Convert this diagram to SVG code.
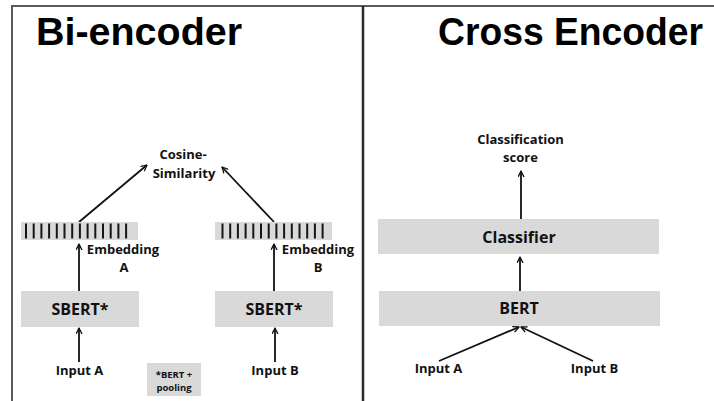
<svg xmlns="http://www.w3.org/2000/svg" width="714" height="401" viewBox="0 0 714 401">
  <defs>
    <marker id="arrow" viewBox="0 0 10 10" refX="9" refY="5" markerWidth="7" markerHeight="7" markerUnits="userSpaceOnUse" orient="auto">
      <path d="M1,1 L9,5 L1,9" fill="none" stroke="#111" stroke-width="1.8" stroke-linecap="round" stroke-linejoin="round"/>
    </marker>
    <!-- one embedding vector: 14 dark cells on a grey strip -->
    <g id="vector-cells">
      <rect x="0" y="0" width="2" height="15"/>
      <rect x="7.7" y="0" width="2" height="15"/>
      <rect x="15.4" y="0" width="2" height="15"/>
      <rect x="23.1" y="0" width="2" height="15"/>
      <rect x="30.8" y="0" width="2" height="15"/>
      <rect x="38.5" y="0" width="2" height="15"/>
      <rect x="46.2" y="0" width="2" height="15"/>
      <rect x="53.9" y="0" width="2" height="15"/>
      <rect x="61.6" y="0" width="2" height="15"/>
      <rect x="69.3" y="0" width="2" height="15"/>
      <rect x="77" y="0" width="2" height="15"/>
      <rect x="84.7" y="0" width="2" height="15"/>
      <rect x="92.4" y="0" width="2" height="15"/>
      <rect x="100.1" y="0" width="2" height="15"/>
    </g>
    <style>
      .title { font-family: "Liberation Sans", Arial, sans-serif; font-weight: bold; fill: #000; }
      .lbl { font-family: "Open Sans", "Noto Sans", sans-serif; font-weight: bold; font-size: 13px; fill: #111; text-anchor: middle; }
      .box-lbl { font-family: "Open Sans", "Noto Sans", sans-serif; font-weight: bold; font-size: 16px; fill: #111; text-anchor: middle; }
      .note { font-family: "Open Sans", "Noto Sans", sans-serif; font-weight: bold; font-size: 9.5px; fill: #111; text-anchor: middle; }
      .box { fill: #d9d9d9; }
      .cells { fill: #161616; }
      .conn { fill: none; stroke: #111; stroke-width: 1.8; marker-end: url(#arrow); }
    </style>
  </defs>

  <rect width="714" height="401" fill="#fff"/>

  <!-- frame -->
  <g id="frame">
    <line x1="11" y1="6" x2="714" y2="6" stroke="#5a5a5a" stroke-width="2"/>
    <line x1="12" y1="5" x2="12" y2="401" stroke="#5a5a5a" stroke-width="2"/>
    <line x1="363" y1="6" x2="363" y2="401" stroke="#2a2a2a" stroke-width="2.5"/>
  </g>

  <!-- titles -->
  <text class="title" x="36" y="45" font-size="39" textLength="206" lengthAdjust="spacingAndGlyphs">Bi-encoder</text>
  <text class="title" x="438" y="45" font-size="39" textLength="265" lengthAdjust="spacingAndGlyphs">Cross Encoder</text>

  <!-- connectors -->
  <g id="connectors">
    <!-- bi-encoder -->
    <line class="conn" x1="79" y1="362" x2="79" y2="328"/>
    <line class="conn" x1="79" y1="291" x2="79" y2="244"/>
    <line class="conn" x1="79" y1="222" x2="147" y2="165"/>
    <line class="conn" x1="275" y1="362" x2="275" y2="328"/>
    <line class="conn" x1="274" y1="291" x2="274" y2="244"/>
    <line class="conn" x1="274" y1="222" x2="222" y2="167"/>
    <!-- cross encoder -->
    <line class="conn" x1="439" y1="361" x2="519" y2="327"/>
    <line class="conn" x1="593" y1="361" x2="521" y2="327"/>
    <line class="conn" x1="520" y1="291" x2="520" y2="257"/>
    <line class="conn" x1="521" y1="219" x2="521" y2="171"/>
  </g>

  <!-- bi-encoder nodes -->
  <g id="cosine-similarity">
    <text class="lbl" x="183" y="159">Cosine-</text>
    <text class="lbl" x="184" y="178">Similarity</text>
  </g>

  <g id="embedding-a">
    <rect class="box" x="21" y="222" width="117" height="18"/>
    <use href="#vector-cells" class="cells" x="25" y="223.5"/>
    <text class="lbl" x="123" y="254">Embedding</text>
    <text class="lbl" x="124" y="272">A</text>
  </g>

  <g id="embedding-b">
    <rect class="box" x="215" y="222" width="117" height="18"/>
    <use href="#vector-cells" class="cells" x="221.5" y="223.5"/>
    <text class="lbl" x="318" y="254">Embedding</text>
    <text class="lbl" x="318" y="272">B</text>
  </g>

  <g id="sbert-a">
    <rect class="box" x="21" y="291" width="118" height="36"/>
    <text class="box-lbl" x="80" y="315">SBERT*</text>
  </g>

  <g id="sbert-b">
    <rect class="box" x="215" y="291" width="118" height="36"/>
    <text class="box-lbl" x="274" y="315">SBERT*</text>
  </g>

  <g id="input-a">
    <text class="lbl" x="79.5" y="375">Input A</text>
  </g>

  <g id="input-b">
    <text class="lbl" x="275" y="375">Input B</text>
  </g>

  <g id="sbert-note">
    <rect class="box" x="147" y="363" width="54" height="33"/>
    <text class="note" x="174" y="378">*BERT +</text>
    <text class="note" x="174" y="391">pooling</text>
  </g>

  <!-- cross encoder nodes -->
  <g id="classification-score">
    <text class="lbl" x="520.5" y="144">Classification</text>
    <text class="lbl" x="520.5" y="162">score</text>
  </g>

  <g id="classifier">
    <rect class="box" x="378" y="219" width="281" height="35"/>
    <text class="box-lbl" x="519" y="243">Classifier</text>
  </g>

  <g id="bert">
    <rect class="box" x="379" y="291" width="281" height="35"/>
    <text class="box-lbl" x="519" y="314">BERT</text>
  </g>

  <g id="cross-input-a">
    <text class="lbl" x="438.5" y="373">Input A</text>
  </g>

  <g id="cross-input-b">
    <text class="lbl" x="594.5" y="373">Input B</text>
  </g>
</svg>
